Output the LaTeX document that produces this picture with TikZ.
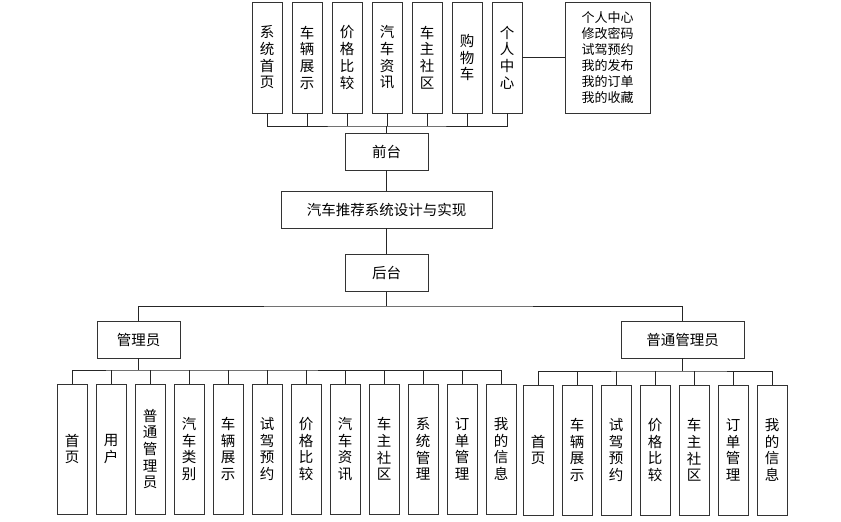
\documentclass[tikz,border=0pt]{standalone}
\usepackage{fontspec}
\newfontfamily\cjk{Noto Sans CJK SC}
\begin{document}
\begin{tikzpicture}[x=1pt,y=-1pt,
  box/.style={draw=black!80, line width=0.8pt, inner sep=0pt, align=center,
    font=\cjk\fontsize{14.5}{16.7}\selectfont},
  topbox/.style={box, minimum width=30pt, minimum height=111pt},
  leafbox/.style={box, minimum width=30pt, minimum height=130pt},
  hbox/.style={box, minimum height=37pt},
  link/.style={draw=black!85, line width=0.8pt}]
\useasboundingbox (0,0) rectangle (841,522);

% top row
\foreach \t [count=\i] in {{系\\统\\首\\页},{车\\辆\\展\\示},{价\\格\\比\\较},{汽\\车\\资\\讯},{车\\主\\社\\区},{购\\物\\车},{个\\人\\中\\心}}
  \node[topbox] (t\i) at (227+40*\i,57.5) {\t};
\node[box, minimum width=85pt, minimum height=111pt, font=\cjk\fontsize{13}{16}\selectfont]
  (pc) at (607.5,57.5) {个人中心\\修改密码\\试驾预约\\我的发布\\我的订单\\我的收藏};

\node[hbox, minimum width=83pt] (front) at (386.5,151.5) {前台};
\node[hbox, minimum width=211pt] (sys) at (386.5,209.5) {汽车推荐系统设计与实现};
\node[hbox, minimum width=83pt] (back) at (386.5,273) {后台};
\node[hbox, minimum width=83pt] (admin) at (138.5,339.5) {管理员};
\node[hbox, minimum width=123pt] (normal) at (682.5,339.5) {普通管理员};

% admin leaves
\foreach \t [count=\i] in {{首\\页},{用\\户},{普\\通\\管\\理\\员},{汽\\车\\类\\别},{车\\辆\\展\\示},{试\\驾\\预\\约},{价\\格\\比\\较},{汽\\车\\资\\讯},{车\\主\\社\\区},{系\\统\\管\\理},{订\\单\\管\\理},{我\\的\\信\\息}}
  \node[leafbox] (a\i) at (33+39*\i,449) {\t};
% normal leaves
\foreach \t [count=\i] in {{首\\页},{车\\辆\\展\\示},{试\\驾\\预\\约},{价\\格\\比\\较},{车\\主\\社\\区},{订\\单\\管\\理},{我\\的\\信\\息}}
  \node[leafbox] (n\i) at (499+39*\i,450) {\t};

% connectors top
\coordinate (tbus) at (386.5,126);
\draw[link] (t1.south) |- (tbus) -| (t7.south);
\foreach \i in {2,...,6} \draw[link] (t\i.south) -- (t\i.south |- tbus);
\draw[link] (front.north) -- (tbus);
\draw[link] (t7.east) -- (pc.west);
\draw[link] (front.south) -- (sys.north);
\draw[link] (sys.south) -- (back.north);

% back to roles
\coordinate (hbus) at (386.5,306);
\draw[link] (back.south) -- (hbus);
\draw[link] (admin.north) |- (hbus) -| (normal.north);

% admin bus
\coordinate (abus) at (138.5,370);
\draw[link] (admin.south) -- (abus);
\draw[link] (a1.north) |- (abus) -| (a12.north);
\foreach \i in {2,...,11} \draw[link] (a\i.north) -- (a\i.north |- abus);

% normal bus
\coordinate (nbus) at (682.5,371);
\draw[link] (normal.south) -- (nbus);
\draw[link] (n1.north) |- (nbus) -| (n7.north);
\foreach \i in {2,...,6} \draw[link] (n\i.north) -- (n\i.north |- nbus);
\end{tikzpicture}
\end{document}
